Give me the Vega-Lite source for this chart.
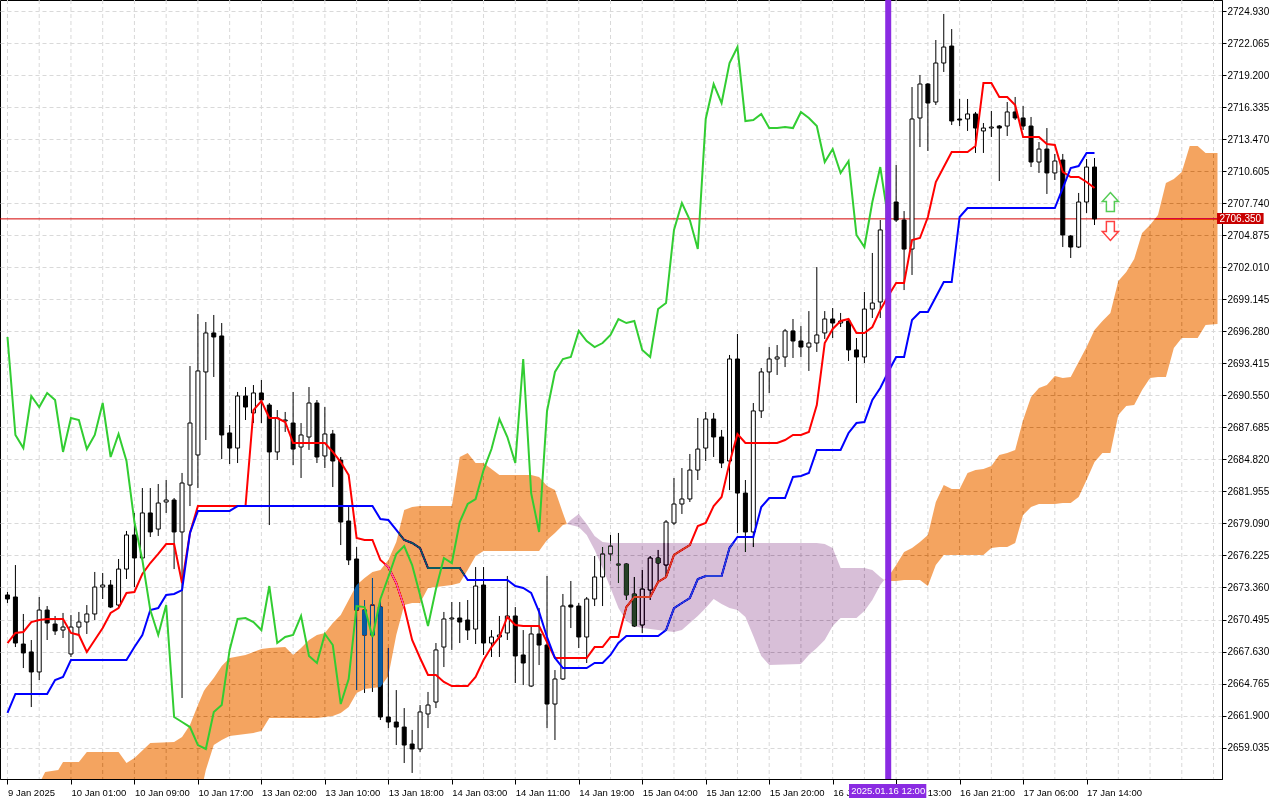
{
  "$schema": "https://vega.github.io/schema/vega-lite/v6.json",
  "width": 1222,
  "height": 779,
  "autosize": {"type": "none"},
  "padding": {"left": 0, "top": 0, "right": 58, "bottom": 21},
  "background": "white",
  "config": {
    "view": {"stroke": "black", "strokeWidth": 1},
    "axis": {"labelFont": "Liberation Sans", "labelFontSize": 10, "labelColor": "black", "tickColor": "black", "domainColor": "black"}
  },
  "resolve": {"axis": {"x": "independent", "y": "independent"}},
  "datasets": {
    "vgrid": [
      {"i": 0}, {"i": 4}, {"i": 8}, {"i": 12}, {"i": 16}, {"i": 20}, {"i": 24}, {"i": 28}, {"i": 32}, {"i": 36},
      {"i": 40}, {"i": 44}, {"i": 48}, {"i": 52}, {"i": 56}, {"i": 60}, {"i": 64}, {"i": 68}, {"i": 72}, {"i": 76},
      {"i": 80}, {"i": 84}, {"i": 88}, {"i": 92}, {"i": 96}, {"i": 100}, {"i": 104}, {"i": 108}, {"i": 112}, {"i": 116},
      {"i": 120}, {"i": 124}, {"i": 128}, {"i": 132}, {"i": 136}, {"i": 140}, {"i": 144}, {"i": 148}, {"i": 152}
    ],
    "bars": [
      {"i":0,"o":2672.69,"h":2672.96,"l":2671.97,"c":2672.33,"t":2668.39,"k":2662.13,"ch":2695.78},
      {"i":1,"o":2672.51,"h":2675.37,"l":2668.03,"c":2668.39,"t":2669.29,"k":2663.83,"ch":2687.01},
      {"i":2,"o":2668.30,"h":2670.99,"l":2666.15,"c":2667.50,"t":2669.38,"k":2663.83,"ch":2685.84},
      {"i":3,"o":2667.59,"h":2668.66,"l":2662.66,"c":2665.80,"t":2670.27,"k":2663.83,"ch":2690.50},
      {"i":4,"o":2665.80,"h":2672.51,"l":2665.08,"c":2671.34,"t":2670.45,"k":2663.83,"ch":2689.51},
      {"i":5,"o":2671.34,"h":2671.70,"l":2668.66,"c":2670.18,"t":2670.54,"k":2663.83,"ch":2690.77},
      {"i":6,"o":2670.09,"h":2670.81,"l":2669.11,"c":2669.47,"t":2670.54,"k":2665.08,"ch":2690.14},
      {"i":7,"o":2669.55,"h":2671.08,"l":2668.84,"c":2669.82,"t":2670.54,"k":2665.35,"ch":2685.49},
      {"i":8,"o":2667.41,"h":2670.90,"l":2667.14,"c":2669.82,"t":2669.29,"k":2666.87,"ch":2688.53},
      {"i":9,"o":2669.82,"h":2671.17,"l":2669.11,"c":2670.27,"t":2669.11,"k":2666.87,"ch":2688.35},
      {"i":10,"o":2670.27,"h":2671.79,"l":2669.20,"c":2670.99,"t":2667.59,"k":2666.87,"ch":2685.75},
      {"i":11,"o":2670.99,"h":2674.75,"l":2670.45,"c":2673.40,"t":2668.66,"k":2666.87,"ch":2687.01},
      {"i":12,"o":2673.40,"h":2674.66,"l":2672.33,"c":2673.58,"t":2669.73,"k":2666.87,"ch":2689.87},
      {"i":13,"o":2673.58,"h":2674.03,"l":2671.52,"c":2671.61,"t":2671.08,"k":2666.87,"ch":2685.04},
      {"i":14,"o":2671.79,"h":2675.91,"l":2671.61,"c":2675.01,"t":2671.52,"k":2666.87,"ch":2687.10},
      {"i":15,"o":2675.01,"h":2678.42,"l":2674.12,"c":2678.06,"t":2672.87,"k":2666.87,"ch":2684.68},
      {"i":16,"o":2678.06,"h":2680.03,"l":2673.40,"c":2676.00,"t":2672.96,"k":2668.03,"ch":2679.22},
      {"i":17,"o":2676.00,"h":2682.26,"l":2675.82,"c":2680.03,"t":2674.57,"k":2669.11,"ch":2675.82},
      {"i":18,"o":2680.03,"h":2682.26,"l":2677.88,"c":2678.33,"t":2675.55,"k":2671.34,"ch":2671.34},
      {"i":19,"o":2678.59,"h":2682.62,"l":2677.97,"c":2680.92,"t":2676.36,"k":2671.52,"ch":2669.11},
      {"i":20,"o":2681.01,"h":2682.98,"l":2680.03,"c":2681.19,"t":2677.25,"k":2672.69,"ch":2671.79},
      {"i":21,"o":2681.19,"h":2681.37,"l":2675.01,"c":2678.33,"t":2677.25,"k":2672.78,"ch":2661.77},
      {"i":22,"o":2678.33,"h":2683.61,"l":2663.47,"c":2682.71,"t":2673.76,"k":2673.13,"ch":2661.32},
      {"i":23,"o":2682.53,"h":2693.18,"l":2680.65,"c":2688.08,"t":2678.24,"k":2678.24,"ch":2660.87},
      {"i":24,"o":2685.22,"h":2697.84,"l":2682.26,"c":2692.74,"t":2680.65,"k":2680.21,"ch":2659.26},
      {"i":25,"o":2692.65,"h":2697.12,"l":2686.56,"c":2696.14,"t":2680.65,"k":2680.21,"ch":2658.91},
      {"i":26,"o":2696.14,"h":2697.75,"l":2692.20,"c":2695.78,"t":2680.65,"k":2680.21,"ch":2662.22},
      {"i":27,"o":2695.87,"h":2697.03,"l":2684.86,"c":2687.01,"t":2680.65,"k":2680.21,"ch":2662.84},
      {"i":28,"o":2687.19,"h":2687.90,"l":2684.41,"c":2685.84,"t":2680.65,"k":2680.21,"ch":2667.77},
      {"i":29,"o":2685.84,"h":2690.86,"l":2684.50,"c":2690.50,"t":2680.65,"k":2680.65,"ch":2670.54},
      {"i":30,"o":2690.50,"h":2691.30,"l":2688.35,"c":2689.51,"t":2680.65,"k":2680.65,"ch":2670.63},
      {"i":31,"o":2688.98,"h":2691.48,"l":2688.08,"c":2690.77,"t":2689.24,"k":2680.65,"ch":2670.27},
      {"i":32,"o":2690.77,"h":2691.93,"l":2688.08,"c":2690.14,"t":2690.05,"k":2680.65,"ch":2669.55},
      {"i":33,"o":2689.69,"h":2689.87,"l":2678.95,"c":2685.49,"t":2688.53,"k":2680.65,"ch":2673.49},
      {"i":34,"o":2685.49,"h":2689.24,"l":2684.77,"c":2688.53,"t":2688.53,"k":2680.65,"ch":2668.39},
      {"i":35,"o":2688.26,"h":2689.07,"l":2687.28,"c":2688.35,"t":2688.17,"k":2680.65,"ch":2668.93},
      {"i":36,"o":2688.08,"h":2690.86,"l":2684.32,"c":2685.75,"t":2686.29,"k":2680.65,"ch":2669.11},
      {"i":37,"o":2685.93,"h":2688.08,"l":2683.16,"c":2687.01,"t":2686.29,"k":2680.65,"ch":2670.81},
      {"i":38,"o":2686.83,"h":2691.30,"l":2685.67,"c":2689.87,"t":2686.29,"k":2680.65,"ch":2667.23},
      {"i":39,"o":2689.87,"h":2690.14,"l":2684.50,"c":2685.04,"t":2686.29,"k":2680.65,"ch":2666.60},
      {"i":40,"o":2685.13,"h":2689.51,"l":2684.05,"c":2687.10,"t":2686.29,"k":2680.65,"ch":2669.20},
      {"i":41,"o":2687.10,"h":2687.46,"l":2682.35,"c":2684.68,"t":2685.49,"k":2680.65,"ch":2668.21},
      {"i":42,"o":2684.77,"h":2685.04,"l":2677.16,"c":2679.22,"t":2684.59,"k":2680.65,"ch":2662.93},
      {"i":43,"o":2679.31,"h":2680.56,"l":2675.37,"c":2675.82,"t":2683.43,"k":2680.65,"ch":2665.17},
      {"i":44,"o":2675.91,"h":2676.98,"l":2664.18,"c":2671.34,"t":2677.79,"k":2680.65,"ch":2671.70},
      {"i":45,"o":2671.34,"h":2672.24,"l":2663.92,"c":2669.11,"t":2677.61,"k":2680.65,"ch":2671.61},
      {"i":46,"o":2669.11,"h":2674.21,"l":2664.01,"c":2671.79,"t":2677.61,"k":2680.65,"ch":2668.93},
      {"i":47,"o":2671.61,"h":2672.24,"l":2661.50,"c":2661.77,"t":2675.82,"k":2679.49,"ch":2672.33},
      {"i":48,"o":2661.77,"h":2667.94,"l":2660.78,"c":2661.32,"t":2675.19,"k":2679.40,"ch":2674.30},
      {"i":49,"o":2661.32,"h":2664.18,"l":2659.26,"c":2660.87,"t":2673.76,"k":2678.51,"ch":2676.36},
      {"i":50,"o":2660.87,"h":2662.57,"l":2657.65,"c":2659.26,"t":2671.61,"k":2677.61,"ch":2677.07},
      {"i":51,"o":2659.35,"h":2660.61,"l":2656.76,"c":2658.91,"t":2668.66,"k":2677.34,"ch":2675.37},
      {"i":52,"o":2658.91,"h":2662.84,"l":2658.64,"c":2662.22,"t":2667.05,"k":2676.89,"ch":2672.69},
      {"i":53,"o":2662.04,"h":2664.01,"l":2660.78,"c":2662.84,"t":2665.53,"k":2675.10,"ch":2669.91},
      {"i":54,"o":2663.11,"h":2668.39,"l":2662.57,"c":2667.77,"t":2665.53,"k":2675.10,"ch":2673.22},
      {"i":55,"o":2668.03,"h":2671.17,"l":2666.24,"c":2670.54,"t":2664.90,"k":2675.10,"ch":2676.00},
      {"i":56,"o":2670.54,"h":2672.06,"l":2667.77,"c":2670.63,"t":2664.54,"k":2675.10,"ch":2675.55},
      {"i":57,"o":2670.63,"h":2672.06,"l":2668.39,"c":2670.27,"t":2664.54,"k":2675.10,"ch":2679.22},
      {"i":58,"o":2670.45,"h":2672.24,"l":2668.66,"c":2669.55,"t":2664.54,"k":2674.03,"ch":2680.83},
      {"i":59,"o":2669.64,"h":2675.19,"l":2668.30,"c":2673.49,"t":2665.35,"k":2674.03,"ch":2681.28},
      {"i":60,"o":2673.58,"h":2675.19,"l":2667.32,"c":2668.39,"t":2666.87,"k":2674.03,"ch":2683.87},
      {"i":61,"o":2668.39,"h":2669.55,"l":2667.14,"c":2668.93,"t":2668.03,"k":2674.03,"ch":2685.75},
      {"i":62,"o":2668.93,"h":2670.81,"l":2667.14,"c":2669.11,"t":2668.93,"k":2674.03,"ch":2688.44},
      {"i":63,"o":2669.29,"h":2674.39,"l":2668.66,"c":2670.81,"t":2670.72,"k":2674.03,"ch":2686.83},
      {"i":64,"o":2670.81,"h":2671.61,"l":2664.81,"c":2667.23,"t":2670.00,"k":2673.49,"ch":2684.50},
      {"i":65,"o":2667.32,"h":2669.55,"l":2664.63,"c":2666.60,"t":2669.91,"k":2673.32,"ch":2693.81},
      {"i":66,"o":2664.54,"h":2669.82,"l":2664.45,"c":2669.20,"t":2669.91,"k":2672.87,"ch":2681.81},
      {"i":67,"o":2669.20,"h":2671.52,"l":2666.42,"c":2668.21,"t":2669.91,"k":2671.17,"ch":2678.33},
      {"i":68,"o":2668.21,"h":2674.39,"l":2660.78,"c":2662.93,"t":2668.48,"k":2668.93,"ch":2689.16},
      {"i":69,"o":2662.93,"h":2665.97,"l":2659.71,"c":2665.17,"t":2667.05,"k":2667.05,"ch":2692.65},
      {"i":70,"o":2665.17,"h":2672.78,"l":2665.08,"c":2671.70,"t":2667.05,"k":2666.15,"ch":2693.81},
      {"i":71,"o":2671.79,"h":2673.94,"l":2669.73,"c":2671.61,"t":2667.05,"k":2666.15,"ch":2693.99},
      {"i":72,"o":2671.70,"h":2671.97,"l":2667.94,"c":2668.93,"t":2667.05,"k":2666.15,"ch":2696.32},
      {"i":73,"o":2668.93,"h":2672.51,"l":2666.60,"c":2672.33,"t":2667.05,"k":2666.15,"ch":2695.42},
      {"i":74,"o":2672.33,"h":2676.18,"l":2671.70,"c":2674.30,"t":2668.03,"k":2666.60,"ch":2694.88},
      {"i":75,"o":2674.30,"h":2676.98,"l":2671.70,"c":2676.36,"t":2668.03,"k":2666.60,"ch":2695.24},
      {"i":76,"o":2676.36,"h":2678.06,"l":2675.73,"c":2677.07,"t":2668.93,"k":2667.32,"ch":2695.96},
      {"i":77,"o":2675.46,"h":2678.24,"l":2673.76,"c":2675.37,"t":2668.93,"k":2668.39,"ch":2697.39},
      {"i":78,"o":2675.46,"h":2675.55,"l":2672.24,"c":2672.69,"t":2671.61,"k":2669.02,"ch":2697.03},
      {"i":79,"o":2672.78,"h":2674.30,"l":2669.82,"c":2669.91,"t":2672.51,"k":2669.02,"ch":2697.21},
      {"i":80,"o":2670.00,"h":2674.92,"l":2669.29,"c":2673.22,"t":2672.51,"k":2669.02,"ch":2694.62},
      {"i":81,"o":2673.13,"h":2676.18,"l":2672.24,"c":2676.00,"t":2672.51,"k":2669.02,"ch":2693.99},
      {"i":82,"o":2676.00,"h":2676.72,"l":2673.85,"c":2675.55,"t":2673.85,"k":2669.02,"ch":2698.28},
      {"i":83,"o":2675.37,"h":2679.40,"l":2674.30,"c":2679.22,"t":2674.30,"k":2669.55,"ch":2698.82},
      {"i":84,"o":2679.13,"h":2683.16,"l":2678.95,"c":2680.83,"t":2676.27,"k":2671.52,"ch":2705.36},
      {"i":85,"o":2680.83,"h":2684.05,"l":2679.94,"c":2681.28,"t":2676.72,"k":2671.97,"ch":2707.77},
      {"i":86,"o":2681.28,"h":2685.31,"l":2681.01,"c":2683.87,"t":2677.16,"k":2672.42,"ch":2706.25},
      {"i":87,"o":2683.87,"h":2688.53,"l":2682.98,"c":2685.75,"t":2678.86,"k":2674.12,"ch":2703.65},
      {"i":88,"o":2685.84,"h":2689.07,"l":2684.68,"c":2688.44,"t":2679.13,"k":2674.39,"ch":2715.29},
      {"i":89,"o":2688.44,"h":2688.98,"l":2685.04,"c":2686.83,"t":2680.65,"k":2674.39,"ch":2718.42},
      {"i":90,"o":2686.83,"h":2687.46,"l":2684.05,"c":2684.50,"t":2681.46,"k":2674.39,"ch":2716.72},
      {"i":91,"o":2684.68,"h":2694.17,"l":2682.08,"c":2693.81,"t":2684.50,"k":2676.89,"ch":2720.30},
      {"i":92,"o":2693.81,"h":2696.05,"l":2678.24,"c":2681.81,"t":2687.10,"k":2677.88,"ch":2721.73},
      {"i":93,"o":2681.81,"h":2682.98,"l":2676.54,"c":2678.33,"t":2686.29,"k":2677.88,"ch":2715.11},
      {"i":94,"o":2678.33,"h":2689.87,"l":2676.98,"c":2689.16,"t":2686.29,"k":2677.88,"ch":2715.20},
      {"i":95,"o":2689.16,"h":2693.00,"l":2688.53,"c":2692.65,"t":2686.29,"k":2680.56,"ch":2715.74},
      {"i":96,"o":2692.65,"h":2694.88,"l":2690.77,"c":2693.81,"t":2686.29,"k":2681.37,"ch":2714.48},
      {"i":97,"o":2693.81,"h":2695.06,"l":2692.38,"c":2693.99,"t":2686.29,"k":2681.37,"ch":2714.48},
      {"i":98,"o":2693.99,"h":2696.50,"l":2693.09,"c":2696.32,"t":2686.56,"k":2681.37,"ch":2714.57},
      {"i":99,"o":2696.32,"h":2697.39,"l":2693.90,"c":2695.42,"t":2687.01,"k":2683.25,"ch":2714.48},
      {"i":100,"o":2695.42,"h":2696.76,"l":2693.99,"c":2694.88,"t":2687.01,"k":2683.34,"ch":2715.92},
      {"i":101,"o":2694.88,"h":2698.10,"l":2692.74,"c":2695.24,"t":2687.28,"k":2683.61,"ch":2715.38},
      {"i":102,"o":2695.24,"h":2702.04,"l":2694.44,"c":2695.96,"t":2689.69,"k":2685.67,"ch":2714.66},
      {"i":103,"o":2696.14,"h":2698.10,"l":2695.60,"c":2697.39,"t":2695.24,"k":2685.67,"ch":2711.44},
      {"i":104,"o":2697.39,"h":2698.37,"l":2695.69,"c":2697.03,"t":2696.50,"k":2685.67,"ch":2712.60},
      {"i":105,"o":2697.03,"h":2697.93,"l":2696.67,"c":2697.21,"t":2697.21,"k":2685.67,"ch":2710.46},
      {"i":106,"o":2697.21,"h":2697.30,"l":2693.63,"c":2694.62,"t":2697.39,"k":2687.19,"ch":2711.53},
      {"i":107,"o":2694.62,"h":2695.69,"l":2689.87,"c":2693.99,"t":2696.14,"k":2688.08,"ch":2704.91},
      {"i":108,"o":2693.99,"h":2699.81,"l":2693.45,"c":2698.28,"t":2696.14,"k":2688.17,"ch":2703.83},
      {"i":109,"o":2698.28,"h":2703.30,"l":2697.48,"c":2698.82,"t":2696.67,"k":2690.14,"ch":2707.86},
      {"i":110,"o":2698.91,"h":2706.25,"l":2697.48,"c":2705.36,"t":2698.20,"k":2691.21,"ch":2710.99},
      {"i":111,"o":2705.36,"h":2708.40,"l":2704.64,"c":2707.77,"t":2699.45,"k":2692.65,"ch":2706.35},
      {"i":112,"o":2707.86,"h":2711.17,"l":2706.07,"c":2706.25,"t":2700.61,"k":2693.99},
      {"i":113,"o":2706.25,"h":2707.05,"l":2699.98,"c":2703.65,"t":2700.61,"k":2693.99},
      {"i":114,"o":2703.65,"h":2718.15,"l":2701.33,"c":2715.29,"t":2704.46,"k":2697.30},
      {"i":115,"o":2715.38,"h":2719.23,"l":2712.78,"c":2718.42,"t":2704.64,"k":2698.02},
      {"i":116,"o":2718.42,"h":2718.51,"l":2712.43,"c":2716.72,"t":2706.52,"k":2698.02},
      {"i":117,"o":2716.81,"h":2722.36,"l":2716.54,"c":2720.30,"t":2709.65,"k":2699.36},
      {"i":118,"o":2720.30,"h":2724.69,"l":2719.50,"c":2721.73,"t":2710.99,"k":2700.70},
      {"i":119,"o":2721.82,"h":2723.34,"l":2714.75,"c":2715.11,"t":2712.34,"k":2700.70},
      {"i":120,"o":2715.29,"h":2717.08,"l":2714.66,"c":2715.20,"t":2712.34,"k":2706.52},
      {"i":121,"o":2715.29,"h":2717.08,"l":2714.22,"c":2715.74,"t":2712.34,"k":2707.32},
      {"i":122,"o":2715.74,"h":2715.92,"l":2712.25,"c":2714.48,"t":2712.87,"k":2707.32},
      {"i":123,"o":2714.22,"h":2714.93,"l":2712.25,"c":2714.48,"t":2718.51,"k":2707.32},
      {"i":124,"o":2714.48,"h":2716.01,"l":2713.68,"c":2714.57,"t":2718.51,"k":2707.32},
      {"i":125,"o":2714.66,"h":2714.75,"l":2709.74,"c":2714.48,"t":2717.26,"k":2707.32},
      {"i":126,"o":2714.66,"h":2716.81,"l":2713.77,"c":2715.92,"t":2717.26,"k":2707.32},
      {"i":127,"o":2715.92,"h":2717.26,"l":2715.20,"c":2715.38,"t":2716.54,"k":2707.32},
      {"i":128,"o":2715.38,"h":2716.45,"l":2714.31,"c":2714.66,"t":2713.68,"k":2707.32},
      {"i":129,"o":2714.66,"h":2715.47,"l":2710.99,"c":2711.44,"t":2713.68,"k":2707.32},
      {"i":130,"o":2711.44,"h":2713.23,"l":2710.46,"c":2712.60,"t":2713.68,"k":2707.32},
      {"i":131,"o":2712.60,"h":2714.48,"l":2708.58,"c":2710.46,"t":2713.05,"k":2707.32},
      {"i":132,"o":2710.46,"h":2712.16,"l":2709.83,"c":2711.53,"t":2712.96,"k":2707.32},
      {"i":133,"o":2711.62,"h":2712.16,"l":2703.83,"c":2704.91,"t":2710.55,"k":2709.11},
      {"i":134,"o":2704.82,"h":2704.91,"l":2702.85,"c":2703.83,"t":2710.10,"k":2710.90},
      {"i":135,"o":2703.83,"h":2708.67,"l":2703.74,"c":2707.86,"t":2710.10,"k":2711.08},
      {"i":136,"o":2707.86,"h":2711.71,"l":2706.88,"c":2710.99,"t":2709.65,"k":2712.25},
      {"i":137,"o":2710.99,"h":2711.80,"l":2705.80,"c":2706.35,"t":2709.11,"k":2712.25}
    ],
    "cloud": [
      {"i":4.3,"top":2656.22,"bot":2656.22,"seg":"a"},
      {"i":4.75,"top":2656.85,"bot":2656.22,"seg":"a"},
      {"i":6.4,"top":2657.03,"bot":2656.22,"seg":"a"},
      {"i":7,"top":2657.74,"bot":2656.22,"seg":"a"},
      {"i":9,"top":2657.74,"bot":2656.22,"seg":"a"},
      {"i":10,"top":2658.64,"bot":2656.22,"seg":"a"},
      {"i":14,"top":2658.64,"bot":2656.22,"seg":"a"},
      {"i":15,"top":2657.65,"bot":2656.22,"seg":"a"},
      {"i":16,"top":2658.10,"bot":2656.22,"seg":"a"},
      {"i":18,"top":2659.44,"bot":2656.22,"seg":"a"},
      {"i":21,"top":2659.53,"bot":2656.22,"seg":"a"},
      {"i":22,"top":2659.98,"bot":2656.22,"seg":"a"},
      {"i":23,"top":2661.05,"bot":2656.22,"seg":"a"},
      {"i":24,"top":2662.84,"bot":2656.22,"seg":"a"},
      {"i":24.75,"top":2664.09,"bot":2656.22,"seg":"a"},
      {"i":25,"top":2664.36,"bot":2657.03,"seg":"a"},
      {"i":26,"top":2665.26,"bot":2659.26,"seg":"a"},
      {"i":27,"top":2666.33,"bot":2659.71,"seg":"a"},
      {"i":28,"top":2667.05,"bot":2660.07,"seg":"a"},
      {"i":30,"top":2667.32,"bot":2660.25,"seg":"a"},
      {"i":31,"top":2667.59,"bot":2660.34,"seg":"a"},
      {"i":32,"top":2667.85,"bot":2660.52,"seg":"a"},
      {"i":33,"top":2667.94,"bot":2661.68,"seg":"a"},
      {"i":35,"top":2668.03,"bot":2661.68,"seg":"a"},
      {"i":36,"top":2667.32,"bot":2661.68,"seg":"a"},
      {"i":37,"top":2667.94,"bot":2661.68,"seg":"a"},
      {"i":38,"top":2668.66,"bot":2661.68,"seg":"a"},
      {"i":39,"top":2669.11,"bot":2661.68,"seg":"a"},
      {"i":40,"top":2669.29,"bot":2661.77,"seg":"a"},
      {"i":41,"top":2670.18,"bot":2661.86,"seg":"a"},
      {"i":42,"top":2670.90,"bot":2662.13,"seg":"a"},
      {"i":43,"top":2672.24,"bot":2662.66,"seg":"a"},
      {"i":44,"top":2673.58,"bot":2663.92,"seg":"a"},
      {"i":45,"top":2674.21,"bot":2664.27,"seg":"a"},
      {"i":46,"top":2674.75,"bot":2664.36,"seg":"a"},
      {"i":47,"top":2674.93,"bot":2664.45,"seg":"a"},
      {"i":48,"top":2675.82,"bot":2665.44,"seg":"a"},
      {"i":49,"top":2677.43,"bot":2669.11,"seg":"a"},
      {"i":50,"top":2680.30,"bot":2671.79,"seg":"a"},
      {"i":51,"top":2680.56,"bot":2671.97,"seg":"a"},
      {"i":52,"top":2680.65,"bot":2671.97,"seg":"a"},
      {"i":53,"top":2680.65,"bot":2673.31,"seg":"a"},
      {"i":56,"top":2680.65,"bot":2673.58,"seg":"a"},
      {"i":57,"top":2685.04,"bot":2673.76,"seg":"a"},
      {"i":58,"top":2685.40,"bot":2674.93,"seg":"a"},
      {"i":59,"top":2684.50,"bot":2676.18,"seg":"a"},
      {"i":60,"top":2684.50,"bot":2676.63,"seg":"a"},
      {"i":62,"top":2683.43,"bot":2676.63,"seg":"a"},
      {"i":66,"top":2683.43,"bot":2676.63,"seg":"a"},
      {"i":67,"top":2683.25,"bot":2676.63,"seg":"a"},
      {"i":68,"top":2682.44,"bot":2677.61,"seg":"a"},
      {"i":69,"top":2682.08,"bot":2678.24,"seg":"a"},
      {"i":70,"top":2680.03,"bot":2678.95,"seg":"a"},
      {"i":70.5,"top":2679.04,"bot":2679.04,"seg":"a"},
      {"i":70.5,"top":2679.04,"bot":2679.04,"seg":"b"},
      {"i":71,"top":2679.40,"bot":2678.95,"seg":"b"},
      {"i":72,"top":2679.94,"bot":2678.77,"seg":"b"},
      {"i":73,"top":2679.04,"bot":2678.06,"seg":"b"},
      {"i":74,"top":2677.97,"bot":2676.72,"seg":"b"},
      {"i":75,"top":2677.43,"bot":2675.10,"seg":"b"},
      {"i":76,"top":2677.34,"bot":2673.31,"seg":"b"},
      {"i":77,"top":2677.34,"bot":2671.52,"seg":"b"},
      {"i":78,"top":2677.34,"bot":2670.36,"seg":"b"},
      {"i":79,"top":2677.34,"bot":2669.91,"seg":"b"},
      {"i":80,"top":2677.34,"bot":2669.73,"seg":"b"},
      {"i":82,"top":2677.34,"bot":2669.55,"seg":"b"},
      {"i":84,"top":2677.34,"bot":2669.38,"seg":"b"},
      {"i":85,"top":2677.34,"bot":2669.55,"seg":"b"},
      {"i":86,"top":2677.34,"bot":2670.18,"seg":"b"},
      {"i":87,"top":2677.34,"bot":2670.81,"seg":"b"},
      {"i":88,"top":2677.34,"bot":2671.52,"seg":"b"},
      {"i":89,"top":2677.34,"bot":2672.33,"seg":"b"},
      {"i":90,"top":2677.34,"bot":2671.88,"seg":"b"},
      {"i":91,"top":2677.34,"bot":2671.52,"seg":"b"},
      {"i":92,"top":2677.34,"bot":2671.34,"seg":"b"},
      {"i":93,"top":2677.34,"bot":2670.72,"seg":"b"},
      {"i":94,"top":2677.34,"bot":2669.02,"seg":"b"},
      {"i":95,"top":2677.34,"bot":2667.23,"seg":"b"},
      {"i":96,"top":2677.34,"bot":2666.42,"seg":"b"},
      {"i":100,"top":2677.34,"bot":2666.51,"seg":"b"},
      {"i":101,"top":2677.34,"bot":2667.32,"seg":"b"},
      {"i":102,"top":2677.34,"bot":2667.94,"seg":"b"},
      {"i":103,"top":2677.25,"bot":2668.66,"seg":"b"},
      {"i":104,"top":2676.89,"bot":2669.91,"seg":"b"},
      {"i":105,"top":2675.10,"bot":2670.63,"seg":"b"},
      {"i":107,"top":2675.10,"bot":2670.63,"seg":"b"},
      {"i":108,"top":2675.10,"bot":2671.25,"seg":"b"},
      {"i":109,"top":2674.93,"bot":2672.24,"seg":"b"},
      {"i":110,"top":2674.30,"bot":2673.58,"seg":"b"},
      {"i":110.5,"top":2674.03,"bot":2674.03,"seg":"b"},
      {"i":110.5,"top":2674.03,"bot":2674.03,"seg":"c"},
      {"i":111,"top":2674.30,"bot":2673.94,"seg":"c"},
      {"i":112,"top":2675.37,"bot":2673.94,"seg":"c"},
      {"i":113,"top":2676.54,"bot":2674.03,"seg":"c"},
      {"i":114,"top":2676.89,"bot":2674.03,"seg":"c"},
      {"i":115,"top":2677.43,"bot":2674.03,"seg":"c"},
      {"i":116,"top":2678.06,"bot":2673.49,"seg":"c"},
      {"i":117,"top":2681.01,"bot":2675.37,"seg":"c"},
      {"i":118,"top":2682.53,"bot":2676.27,"seg":"c"},
      {"i":119,"top":2682.18,"bot":2676.27,"seg":"c"},
      {"i":120,"top":2682.18,"bot":2676.27,"seg":"c"},
      {"i":121,"top":2683.61,"bot":2676.27,"seg":"c"},
      {"i":122,"top":2683.87,"bot":2676.27,"seg":"c"},
      {"i":123,"top":2683.96,"bot":2676.27,"seg":"c"},
      {"i":124,"top":2684.23,"bot":2676.89,"seg":"c"},
      {"i":125,"top":2685.21,"bot":2676.98,"seg":"c"},
      {"i":126,"top":2685.40,"bot":2676.98,"seg":"c"},
      {"i":127,"top":2685.67,"bot":2677.34,"seg":"c"},
      {"i":128,"top":2688.35,"bot":2679.85,"seg":"c"},
      {"i":129,"top":2690.41,"bot":2680.56,"seg":"c"},
      {"i":130,"top":2691.21,"bot":2680.83,"seg":"c"},
      {"i":131,"top":2691.48,"bot":2680.83,"seg":"c"},
      {"i":132,"top":2692.29,"bot":2680.83,"seg":"c"},
      {"i":133,"top":2692.11,"bot":2680.92,"seg":"c"},
      {"i":134,"top":2692.20,"bot":2680.92,"seg":"c"},
      {"i":135,"top":2693.54,"bot":2681.46,"seg":"c"},
      {"i":136,"top":2694.88,"bot":2682.98,"seg":"c"},
      {"i":137,"top":2696.41,"bot":2684.59,"seg":"c"},
      {"i":138,"top":2697.21,"bot":2685.40,"seg":"c"},
      {"i":139,"top":2697.93,"bot":2685.40,"seg":"c"},
      {"i":140,"top":2700.79,"bot":2688.80,"seg":"c"},
      {"i":141,"top":2701.60,"bot":2689.60,"seg":"c"},
      {"i":142,"top":2702.76,"bot":2689.69,"seg":"c"},
      {"i":143,"top":2705.09,"bot":2691.03,"seg":"c"},
      {"i":144,"top":2705.80,"bot":2692.11,"seg":"c"},
      {"i":145,"top":2706.70,"bot":2692.20,"seg":"c"},
      {"i":146,"top":2709.56,"bot":2692.20,"seg":"c"},
      {"i":147,"top":2709.92,"bot":2694.79,"seg":"c"},
      {"i":148,"top":2710.55,"bot":2695.69,"seg":"c"},
      {"i":149,"top":2712.87,"bot":2695.69,"seg":"c"},
      {"i":150,"top":2712.87,"bot":2695.69,"seg":"c"},
      {"i":151,"top":2712.25,"bot":2696.85,"seg":"c"},
      {"i":152.5,"top":2712.25,"bot":2696.94,"seg":"c"}
    ]
  },
  "layer": [
    {
      "data": {"name": "vgrid"},
      "mark": {"type": "rule", "color": "#d9d9d9", "strokeDash": [4, 3], "strokeWidth": 1},
      "encoding": {
        "x": {
          "field": "i", "type": "quantitative", "title": null,
          "scale": {"domain": [-0.3125, 152.4375], "nice": false, "zero": false},
          "axis": {
            "orient": "bottom", "title": null, "grid": false,
            "values": [0, 8, 16, 24, 32, 40, 48, 56, 64, 72, 80, 88, 96, 104, 112, 120, 128, 136],
            "labelExpr": "['9 Jan 2025','10 Jan 01:00','10 Jan 09:00','10 Jan 17:00','13 Jan 02:00','13 Jan 10:00','13 Jan 18:00','14 Jan 03:00','14 Jan 11:00','14 Jan 19:00','15 Jan 04:00','15 Jan 12:00','15 Jan 20:00','16 Jan 05:00','16 Jan 13:00','16 Jan 21:00','17 Jan 06:00','17 Jan 14:00'][round(datum.value / 8)]",
            "tickSize": 5, "labelAlign": "left", "labelBaseline": "top", "labelPadding": 3, "labelFontSize": 9.5,
            "labelOverlap": false, "labelFlush": false, "labelBound": false
          }
        }
      }
    },
    {
      "data": {"values": [{"p": 2706.35}]},
      "mark": {"type": "rule", "color": "#d40000", "strokeWidth": 1},
      "encoding": {
        "y": {
          "field": "p", "type": "quantitative", "title": null,
          "scale": {"domain": [2656.22, 2725.94], "nice": false, "zero": false},
          "axis": {
            "orient": "right", "title": null, "grid": true, "gridColor": "#d9d9d9", "gridDash": [4, 3],
            "values": [2659.035, 2661.9, 2664.765, 2667.63, 2670.495, 2673.36, 2676.225, 2679.09, 2681.955, 2684.82, 2687.685, 2690.55, 2693.415, 2696.28, 2699.145, 2702.01, 2704.875, 2707.74, 2710.605, 2713.47, 2716.335, 2719.2, 2722.065, 2724.93],
            "format": ".3f", "tickSize": 4, "labelPadding": 1, "labelAlign": "left", "labelBaseline": "middle",
            "labelOverlap": false, "labelFlush": false, "labelBound": false
          }
        }
      }
    },
    {
      "data": {"name": "bars"},
      "mark": {"type": "rule", "color": "black", "strokeWidth": 1},
      "encoding": {
        "x": {"field": "i", "type": "quantitative", "axis": null},
        "y": {"field": "l", "type": "quantitative", "axis": null},
        "y2": {"field": "h"}
      }
    },
    {
      "data": {"name": "bars"},
      "mark": {"type": "bar", "width": 4, "stroke": "black", "strokeWidth": 1},
      "encoding": {
        "x": {"field": "i", "type": "quantitative", "axis": null},
        "y": {"field": "o", "type": "quantitative", "axis": null},
        "y2": {"field": "c"},
        "fill": {"condition": {"test": "datum.c < datum.o", "value": "black"}, "value": "white"}
      }
    },
    {
      "data": {"name": "bars"},
      "mark": {"type": "line", "color": "#ff0000", "strokeWidth": 2},
      "encoding": {
        "x": {"field": "i", "type": "quantitative", "axis": null},
        "y": {"field": "t", "type": "quantitative", "axis": null}
      }
    },
    {
      "data": {"name": "bars"},
      "mark": {"type": "line", "color": "#0000ff", "strokeWidth": 2},
      "encoding": {
        "x": {"field": "i", "type": "quantitative", "axis": null},
        "y": {"field": "k", "type": "quantitative", "axis": null}
      }
    },
    {
      "data": {"name": "cloud"},
      "mark": {"type": "area", "blend": "difference", "opacity": 1},
      "encoding": {
        "x": {"field": "i", "type": "quantitative", "axis": null},
        "y": {"field": "top", "type": "quantitative", "axis": null, "stack": null},
        "y2": {"field": "bot"},
        "color": {"field": "seg", "type": "nominal", "legend": null,
          "scale": {"domain": ["a", "b", "c"], "range": ["#0b5b9f", "#274027", "#0b5b9f"]}}
      }
    },
    {
      "data": {"name": "bars"},
      "transform": [{"filter": "isValid(datum.ch)"}],
      "mark": {"type": "line", "color": "#32cd32", "strokeWidth": 2},
      "encoding": {
        "x": {"field": "i", "type": "quantitative", "axis": null},
        "y": {"field": "ch", "type": "quantitative", "axis": null}
      }
    },
    {
      "data": {"values": [{"i": 111}]},
      "mark": {"type": "rule", "color": "#8a2be2", "strokeWidth": 6},
      "encoding": {"x": {"field": "i", "type": "quantitative", "axis": null}}
    },
    {
      "data": {"values": [{"i": 139, "p": 2707.86}]},
      "mark": {"type": "point", "shape": "M0,-1L0.85,-0.05L0.42,-0.05L0.42,1L-0.42,1L-0.42,-0.05L-0.85,-0.05Z", "size": 361, "filled": true, "fill": "white", "stroke": "#55cc55", "strokeWidth": 1.5, "opacity": 1},
      "encoding": {
        "x": {"field": "i", "type": "quantitative", "axis": null},
        "y": {"field": "p", "type": "quantitative", "axis": null}
      }
    },
    {
      "data": {"values": [{"i": 139, "p": 2705.27}]},
      "mark": {"type": "point", "shape": "M0,1L0.85,0.05L0.42,0.05L0.42,-1L-0.42,-1L-0.42,0.05L-0.85,0.05Z", "size": 361, "filled": true, "fill": "white", "stroke": "#ff4040", "strokeWidth": 1.5, "opacity": 1},
      "encoding": {
        "x": {"field": "i", "type": "quantitative", "axis": null},
        "y": {"field": "p", "type": "quantitative", "axis": null}
      }
    },
    {
      "data": {"values": [{"x1": 106.06, "x2": 115.8, "y1": 2655.77, "y2": 2654.52}]},
      "mark": {"type": "rect", "color": "#8a2be2", "clip": false},
      "encoding": {
        "x": {"field": "x1", "type": "quantitative", "axis": null},
        "x2": {"field": "x2"},
        "y": {"field": "y1", "type": "quantitative", "axis": null},
        "y2": {"field": "y2"}
      }
    },
    {
      "data": {"values": [{"i": 111, "p": 2655.15, "txt": "2025.01.16 12:00"}]},
      "mark": {"type": "text", "color": "white", "font": "Liberation Sans", "fontSize": 9.5, "align": "center", "baseline": "middle", "clip": false},
      "encoding": {
        "x": {"field": "i", "type": "quantitative", "axis": null},
        "y": {"field": "p", "type": "quantitative", "axis": null},
        "text": {"field": "txt"}
      }
    },
    {
      "data": {"values": [{"x1": 152.44, "x2": 158.31, "y1": 2706.88, "y2": 2705.89}]},
      "mark": {"type": "rect", "color": "#c80000", "clip": false},
      "encoding": {
        "x": {"field": "x1", "type": "quantitative", "axis": null},
        "x2": {"field": "x2"},
        "y": {"field": "y1", "type": "quantitative", "axis": null},
        "y2": {"field": "y2"}
      }
    },
    {
      "data": {"values": [{"i": 155.37, "p": 2706.35, "txt": "2706.350"}]},
      "mark": {"type": "text", "color": "white", "font": "Liberation Sans", "fontSize": 10, "align": "center", "baseline": "middle", "clip": false},
      "encoding": {
        "x": {"field": "i", "type": "quantitative", "axis": null},
        "y": {"field": "p", "type": "quantitative", "axis": null},
        "text": {"field": "txt"}
      }
    }
  ]
}
